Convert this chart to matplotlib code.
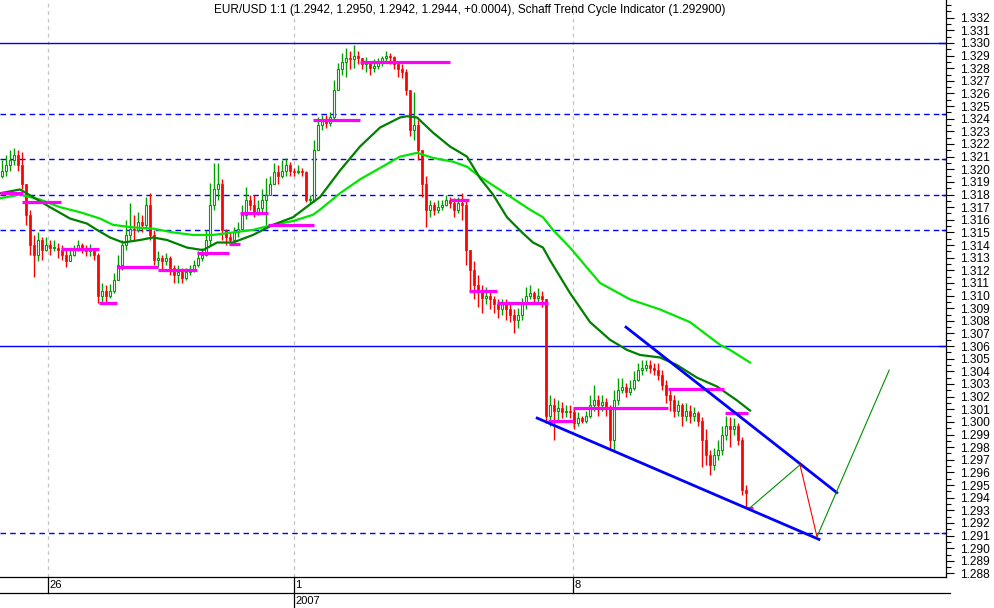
import numpy as np
import matplotlib
matplotlib.use("Agg")
import matplotlib.pyplot as plt
from matplotlib.ticker import MultipleLocator, FormatStrFormatter, FixedLocator
import matplotlib.transforms as mtransforms

plt.rcParams['font.family'] = ['Liberation Sans', 'DejaVu Sans']

# ---------------- data ----------------
first_open = 1.3195
close = [1.3199, 1.3203, 1.3207, 1.3211, 1.3203, 1.3188, 1.3164, 1.3140, 1.3132, 1.3144,
         1.3136, 1.3140, 1.3138, 1.3138, 1.3136, 1.3132, 1.3127, 1.3132, 1.3136, 1.3140,
         1.3138, 1.3135, 1.3136, 1.3132, 1.3100, 1.3104, 1.3100, 1.3104, 1.3112, 1.3124,
         1.3140, 1.3148, 1.3153, 1.3152, 1.3158, 1.3156, 1.3172, 1.3148, 1.3128, 1.3130,
         1.3127, 1.3130, 1.3122, 1.3116, 1.3119, 1.3114, 1.3119, 1.3120, 1.3124, 1.3130,
         1.3132, 1.3144, 1.3172, 1.3184, 1.3188, 1.3152, 1.3146, 1.3144, 1.3150, 1.3153,
         1.3164, 1.3176, 1.3172, 1.3166, 1.3169, 1.3176, 1.3180, 1.3188, 1.3198, 1.3195,
         1.3199, 1.3203, 1.3199, 1.3198, 1.3199, 1.3198, 1.3176, 1.3176, 1.3215, 1.3235,
         1.3239, 1.3237, 1.3241, 1.3263, 1.3279, 1.3285, 1.3288, 1.3287, 1.3290, 1.3288,
         1.3283, 1.3284, 1.3280, 1.3282, 1.3284, 1.3288, 1.3290, 1.3289, 1.3283, 1.3279,
         1.3277, 1.3263, 1.3231, 1.3235, 1.3215, 1.3188, 1.3168, 1.3172, 1.3168, 1.3170,
         1.3172, 1.3176, 1.3173, 1.3168, 1.3173, 1.3172, 1.3136, 1.3120, 1.3108, 1.3104,
         1.3098, 1.3100, 1.3097, 1.3093, 1.3089, 1.3093, 1.3089, 1.3085, 1.3081, 1.3085,
         1.3093, 1.3100, 1.3102, 1.3098, 1.3100, 1.3097, 1.3005, 1.3013, 1.3009, 1.3011,
         1.3008, 1.3009, 1.3008, 1.2999, 1.3003, 1.3001, 1.3005, 1.3013, 1.3017, 1.3013,
         1.3016, 1.3011, 1.2986, 1.3017, 1.3025, 1.3028, 1.3024, 1.3027, 1.3033, 1.3041,
         1.3043, 1.3045, 1.3043, 1.3041, 1.3037, 1.3029, 1.3021, 1.3017, 1.3009, 1.3013,
         1.3005, 1.3009, 1.3005, 1.3007, 1.3001, 1.2986, 1.2974, 1.2966, 1.2974, 1.2978,
         1.2990, 1.2997, 1.2994, 1.2997, 1.2986, 1.2946, 1.2944]
high = [1.3207, 1.3211, 1.3215, 1.3217, 1.3215, 1.3214, 1.3188, 1.3168, 1.3148, 1.3150,
        1.3146, 1.3146, 1.3144, 1.3144, 1.3142, 1.3140, 1.3136, 1.3136, 1.3140, 1.3144,
        1.3142, 1.3140, 1.3141, 1.3138, 1.3134, 1.3110, 1.3108, 1.3109, 1.3118, 1.3132,
        1.3144, 1.3160, 1.3173, 1.3164, 1.3166, 1.3164, 1.3178, 1.3181, 1.3152, 1.3135,
        1.3132, 1.3134, 1.3131, 1.3124, 1.3124, 1.3122, 1.3122, 1.3124, 1.3128, 1.3135,
        1.3138, 1.3152, 1.3189, 1.3205, 1.3205, 1.3192, 1.3153, 1.3150, 1.3154, 1.3158,
        1.3172, 1.3186, 1.3180, 1.3180, 1.3176, 1.3184, 1.3193, 1.3195, 1.3205, 1.3203,
        1.3207, 1.3209, 1.3206, 1.3201, 1.3203, 1.3201, 1.3199, 1.3180, 1.3223, 1.3241,
        1.3243, 1.3243, 1.3245, 1.3271, 1.3284, 1.3292, 1.3296, 1.3294, 1.3298, 1.3294,
        1.3288, 1.3289, 1.3285, 1.3287, 1.3288, 1.3290, 1.3294, 1.3292, 1.3290, 1.3285,
        1.3283, 1.3279, 1.3261, 1.3261, 1.3239, 1.3215, 1.3195, 1.3176, 1.3174, 1.3176,
        1.3176, 1.3180, 1.3178, 1.3177, 1.3178, 1.3181, 1.3176, 1.3136, 1.3127, 1.3116,
        1.3108, 1.3107, 1.3104, 1.3100, 1.3097, 1.3097, 1.3097, 1.3093, 1.3089, 1.3090,
        1.3098, 1.3107, 1.3108, 1.3104, 1.3106, 1.3104, 1.3097, 1.3021, 1.3019, 1.3017,
        1.3016, 1.3013, 1.3013, 1.3011, 1.3008, 1.3005, 1.3009, 1.3021, 1.3029, 1.3021,
        1.3021, 1.3019, 1.3013, 1.3025, 1.3035, 1.3035, 1.3031, 1.3033, 1.3040, 1.3047,
        1.3049, 1.3049, 1.3049, 1.3047, 1.3047, 1.3041, 1.3033, 1.3025, 1.3021, 1.3017,
        1.3015, 1.3015, 1.3013, 1.3012, 1.3009, 1.3004, 1.2994, 1.2978, 1.2979, 1.2986,
        1.2997, 1.3005, 1.3004, 1.3003, 1.2999, 1.2988, 1.2950]
low = [1.3193, 1.3195, 1.3199, 1.3203, 1.3199, 1.3184, 1.3156, 1.3132, 1.3115, 1.3127,
       1.3128, 1.3135, 1.3132, 1.3135, 1.3130, 1.3128, 1.3123, 1.3127, 1.3131, 1.3135,
       1.3134, 1.3131, 1.3131, 1.3128, 1.3094, 1.3094, 1.3095, 1.3098, 1.3102, 1.3112,
       1.3120, 1.3136, 1.3144, 1.3144, 1.3150, 1.3150, 1.3153, 1.3144, 1.3124, 1.3123,
       1.3120, 1.3124, 1.3116, 1.3110, 1.3110, 1.3110, 1.3112, 1.3116, 1.3119, 1.3123,
       1.3127, 1.3131, 1.3140, 1.3168, 1.3176, 1.3144, 1.3140, 1.3140, 1.3144, 1.3146,
       1.3152, 1.3161, 1.3168, 1.3162, 1.3164, 1.3166, 1.3156, 1.3180, 1.3188, 1.3188,
       1.3193, 1.3195, 1.3195, 1.3195, 1.3196, 1.3195, 1.3174, 1.3173, 1.3174, 1.3215,
       1.3231, 1.3233, 1.3234, 1.3239, 1.3263, 1.3275, 1.3273, 1.3279, 1.3280, 1.3283,
       1.3279, 1.3277, 1.3275, 1.3277, 1.3279, 1.3282, 1.3285, 1.3283, 1.3279, 1.3273,
       1.3272, 1.3259, 1.3226, 1.3223, 1.3207, 1.3178, 1.3154, 1.3162, 1.3164, 1.3165,
       1.3168, 1.3171, 1.3169, 1.3162, 1.3165, 1.3160, 1.3124, 1.3104, 1.3097, 1.3091,
       1.3086, 1.3093, 1.3089, 1.3086, 1.3082, 1.3085, 1.3081, 1.3079, 1.3070, 1.3074,
       1.3081, 1.3089, 1.3097, 1.3094, 1.3095, 1.3091, 1.2999, 1.2997, 1.2986, 1.3001,
       1.3003, 1.3004, 1.3003, 1.2994, 1.2997, 1.2999, 1.2999, 1.3003, 1.3009, 1.3005,
       1.3009, 1.3005, 1.2978, 1.2978, 1.3013, 1.3023, 1.3020, 1.3021, 1.3025, 1.3032,
       1.3037, 1.3040, 1.3039, 1.3037, 1.3033, 1.3025, 1.3015, 1.3009, 1.3004, 1.3005,
       1.2997, 1.3001, 1.2999, 1.3001, 1.2997, 1.2964, 1.2966, 1.2958, 1.2962, 1.2970,
       1.2974, 1.2986, 1.2980, 1.2990, 1.2982, 1.2942, 1.2932]

# moving averages (bar index, price)
fast_ma_idx = [-0.5, 4.5, 7.75, 12, 17, 21.25, 23.75, 27, 30.25, 34.5, 37.75, 41.25, 46.25,
               50.25, 53.75, 57.75, 62.75, 67.75, 72.75, 77.75, 79.5, 84.5, 89.5, 94.5, 99.5,
               101.25, 103.75, 107.75, 112, 116.25, 119.5, 122.75, 126.25, 130, 132.75, 135.25,
               137, 139.5, 142, 147, 152, 156.25, 159.5, 164.5, 168.75, 173.75, 178.75, 183.75, 187]
fast_ma = [1.3181, 1.3184, 1.3178, 1.3170, 1.3161, 1.3157, 1.3152, 1.3146, 1.3142, 1.3144,
           1.3146, 1.3144, 1.3138, 1.3136, 1.3142, 1.3142, 1.3148, 1.3156, 1.3162, 1.3174,
           1.3178, 1.3199, 1.3218, 1.3233, 1.3241, 1.3242, 1.3241, 1.3229, 1.3218, 1.3210,
           1.3193, 1.3180, 1.3162, 1.3150, 1.3142, 1.3138, 1.3128, 1.3115, 1.3102, 1.3079,
           1.3065, 1.3057, 1.3053, 1.3051, 1.3045, 1.3035, 1.3028, 1.3017, 1.3009]
slow_ma_idx = [-0.5, 4.5, 9.5, 14.5, 19.5, 24.5, 27.75, 32.75, 37.75, 42.75, 47.75, 52.75,
               57.75, 62.75, 67.75, 72.75, 77.75, 79.5, 84.5, 89.5, 94.5, 99.5, 103.75, 107.75,
               112.75, 116.25, 119.5, 126.25, 132, 135.25, 137.75, 142, 149.5, 157, 164.5, 172,
               179.5, 182, 187]
slow_ma = [1.3177, 1.3180, 1.3176, 1.3170, 1.3166, 1.3161, 1.3156, 1.3154, 1.3153, 1.3150,
           1.3148, 1.3148, 1.3150, 1.3152, 1.3156, 1.3159, 1.3164, 1.3168, 1.3181, 1.3192,
           1.3201, 1.3210, 1.3213, 1.3209, 1.3206, 1.3202, 1.3194, 1.3180, 1.3168, 1.3162,
           1.3152, 1.3138, 1.3110, 1.3097, 1.3089, 1.3079, 1.3061, 1.3057, 1.3047]

# magenta level segments
seg_start = [-0.5, 5, 14.75, 24.25, 28.75, 39, 48.75, 56.75, 59.5, 66.5, 77.75, 89.5,
             112, 116.75, 123.75, 136.5, 142.75, 166.5, 180.75, 186.25]
seg_end = [5.25, 14.75, 24.25, 28.75, 39, 48.75, 56.75, 59.5, 66.5, 78, 89.5, 112,
           116.75, 123.75, 136.5, 142.75, 166.5, 180.5, 186.5, 187.75]
seg_price = [1.3181, 1.3174, 1.3137, 1.3094, 1.3123, 1.3120, 1.3134, 1.3141, 1.3165, 1.3156,
             1.3239, 1.3285, 1.3176, 1.3104, 1.3094, 1.3001, 1.3011, 1.3026, 1.3007, 1.2932]

solid_levels = [1.3300, 1.3060]
dashed_levels = [1.32434, 1.32083, 1.3180, 1.31517, 1.29117]

upper_trend_idx = [156, 208.7]
upper_trend = [1.3075, 1.2944]
lower_trend_idx = [133.8, 204.25]
lower_trend = [1.3003, 1.2907]
proj_up_idx = [187, 199.5]
proj_up = [1.2932, 1.2966]
proj_down_idx = [199.5, 203.75]
proj_down = [1.2966, 1.2909]
proj_rally_idx = [203.75, 221.8]
proj_rally = [1.2909, 1.3041]

price_ticks = [1.288 + 0.001 * k for k in range(45)]   # 1.288 ... 1.332
day_pos = [11.4, 72.9, 142.75]
day_labels = ['26', '1', '8']
year_pos = 72.9
year_label = '2007'
title = ("EUR/USD 1:1 (1.2942, 1.2950, 1.2942, 1.2944, +0.0004), "
         "Schaff Trend Cycle Indicator (1.292900)")

# ---------------- drawing ----------------
GREEN = '#00A000'
RED = '#FF0000'
BLUE = '#0000FF'

fig = plt.figure(figsize=(9.94, 6.08), dpi=100)
W, H = 994, 608
ax = fig.add_axes([0, 31 / H, 946 / W, 577 / H])
ax.set_xlim(-0.5, 236)
ax.set_ylim(1.28772, 1.33340)

for lv in solid_levels:
    ax.axhline(lv, color=BLUE, lw=1.0, zorder=1)
for lv in dashed_levels:
    ax.axhline(lv, color=BLUE, lw=1.0, ls=(0, (4, 3)), zorder=1)
for p in day_pos:
    ax.axvline(p, color='#C4C4C4', lw=0.9, ls=(0, (3, 3)), zorder=0.5)

c = np.array(close)
h = np.array(high)
l = np.array(low)
o = np.r_[first_open, c[:-1]]
xi = np.arange(len(c))
up = c >= o
bot = np.minimum(o, c)
hgt = np.maximum(np.abs(c - o), 0.00002)

ax.vlines(xi[up], l[up], h[up], color=GREEN, lw=1.0, zorder=2)
ax.vlines(xi[~up], l[~up], h[~up], color=RED, lw=1.0, zorder=2)
ax.bar(xi[up], hgt[up], bottom=bot[up], width=0.7, facecolor='white',
       edgecolor=GREEN, linewidth=0.8, zorder=3)
ax.bar(xi[~up], hgt[~up], bottom=bot[~up], width=0.7, color=RED,
       edgecolor=RED, linewidth=0.5, zorder=3)

ax.plot(slow_ma_idx, slow_ma, color='#00E600', lw=1.6, zorder=4)
ax.plot(fast_ma_idx, fast_ma, color='#008000', lw=1.6, zorder=4)

for s, e, p in zip(seg_start, seg_end, seg_price):
    ax.plot([s, e], [p, p], color='#FF00FF', lw=2.3, solid_capstyle='butt', zorder=5)

ax.plot(upper_trend_idx, upper_trend, color=BLUE, lw=2.0, zorder=6)
ax.plot(lower_trend_idx, lower_trend, color=BLUE, lw=2.0, zorder=6)
ax.plot(proj_up_idx, proj_up, color='#009000', lw=0.8, zorder=6)
ax.plot(proj_down_idx, proj_down, color=RED, lw=0.8, zorder=6)
ax.plot(proj_rally_idx, proj_rally, color='#009000', lw=0.8, zorder=6)

# right price axis
ax.yaxis.tick_right()
ax.yaxis.set_major_locator(FixedLocator(price_ticks))
ax.yaxis.set_minor_locator(MultipleLocator(0.0005))
ax.yaxis.set_major_formatter(FormatStrFormatter('%.3f'))
ax.tick_params(axis='y', which='major', length=6, width=0.8, pad=4, labelsize=8.6)
ax.tick_params(axis='y', which='minor', length=3.5, width=0.8)
ax.set_xticks([])
for side in ('top', 'left'):
    ax.spines[side].set_visible(False)
for side in ('right', 'bottom'):
    ax.spines[side].set_linewidth(0.9)

# blue level markers on the price axis
ytrans = mtransforms.blended_transform_factory(ax.transAxes, ax.transData)
for lv in solid_levels:
    ax.plot([0.993, 1.0], [lv, lv], color=BLUE, lw=1.0, transform=ytrans, clip_on=False)
for lv in dashed_levels:
    ax.plot([0.996, 0.999], [lv, lv], color=BLUE, lw=1.0, transform=ytrans, clip_on=False)

# date band
xtrans = mtransforms.blended_transform_factory(ax.transData, ax.transAxes)
band = 16 / 577
ax.plot([0, 1.004], [-band, -band], color='black', lw=0.9,
        transform=ax.transAxes, clip_on=False)
for p, lab in zip(day_pos, day_labels):
    ax.plot([p, p], [0, -band], color='black', lw=0.9, transform=xtrans, clip_on=False)
    ax.text(p + 0.35, -band / 2, lab, transform=xtrans, ha='left', va='center',
            fontsize=8)
ax.plot([year_pos, year_pos], [-band, -31 / 577], color='black', lw=0.9,
        transform=xtrans, clip_on=False)
ax.text(year_pos + 0.35, -band - 7.5 / 577, year_label, transform=xtrans,
        ha='left', va='center', fontsize=8)

ax.text(0.497, 1 - 10 / 577, title, transform=ax.transAxes, ha='center',
        va='center', fontsize=8.5)

fig.savefig('out.png', dpi=100)
